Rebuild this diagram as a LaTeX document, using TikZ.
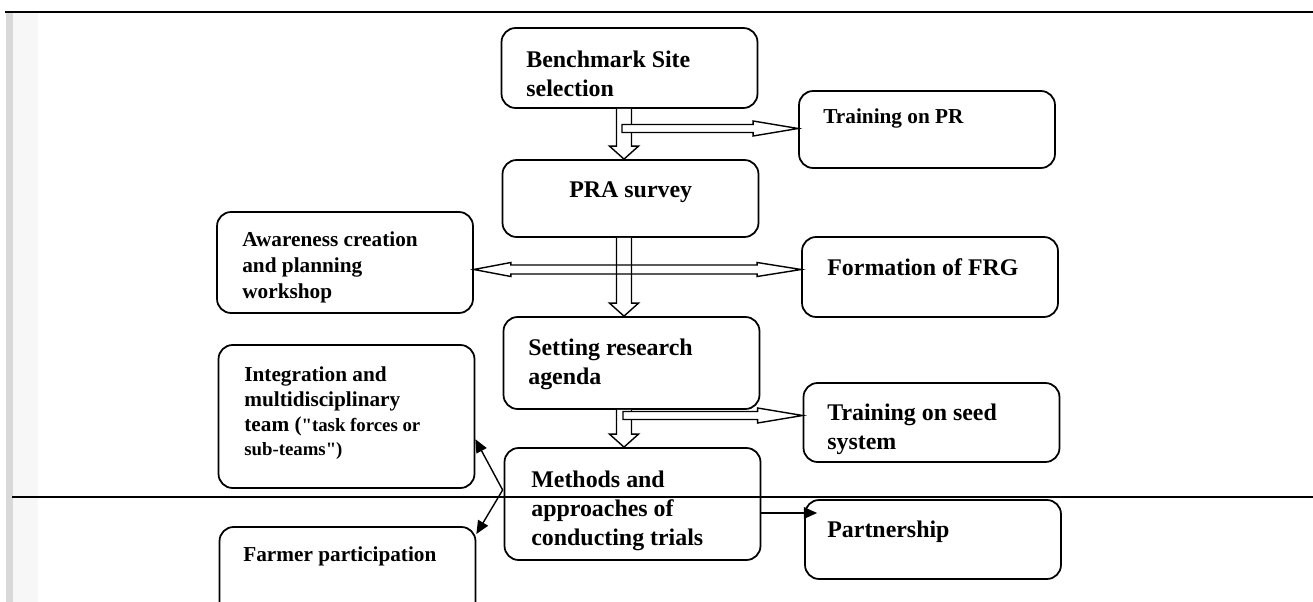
\documentclass[tikz,border=0pt]{standalone}
\usepackage{fontspec}
\setmainfont{Liberation Serif}
\usetikzlibrary{calc,arrows.meta}

% hollow block arrows: #1 start, #2 tip
\newcommand{\downblock}[2]{%
  \filldraw[fill=white,line width=0.8pt] ($(#1)+(-7.5,0)$) -- ($(#2)+(-7.5,-13)$) -- ($(#2)+(-14.5,-13)$) -- (#2)
    -- ($(#2)+(14.5,-13)$) -- ($(#2)+(7.5,-13)$) -- ($(#1)+(7.5,0)$);}
\newcommand{\rightblock}[2]{%
  \filldraw[fill=white,line width=0.8pt] ($(#1)+(0,-4)$) -- ($(#2)+(-45,-4)$) -- ($(#2)+(-45,-7.5)$) -- (#2)
    -- ($(#2)+(-45,7.5)$) -- ($(#2)+(-45,4)$) -- ($(#1)+(0,4)$) -- cycle;}

\begin{document}
\begin{tikzpicture}[x=0.02cm,y=-0.02cm,
  box/.style={draw,rounded corners=8pt,line width=1pt,minimum width=5.12cm,inner sep=0pt},
  txt/.style={anchor=north west,inner sep=0pt,align=left,font=\bfseries\fontsize{13.6}{16.4}\selectfont},
  stxt/.style={txt,font=\bfseries\fontsize{12.1}{14.8}\selectfont},
  link/.style={line width=0.8pt,-{Triangle[length=7.5pt,width=6.5pt]}}]
\useasboundingbox (0,0) rectangle (1313,602);
% scanned page edge
\fill[gray!30] (6,12) rectangle (13,602);
\fill[gray!6] (13,12) rectangle (38,602);
% boxes: name/x/y/height
\foreach \n/\x/\y/\h in {bench/629.5/68/1.6,trpr/927/129.5/1.54,pra/630.5/198.5/1.54,
  aware/345/262.5/2.02,frg/930/277/1.6,setting/631.5/363/1.84,integ/346.5/416.5/2.86,
  seed/931.5/422.5/1.58,methods/632.5/504/2.24,farmer/347.5/583.5/2.26,partner/933/539.5/1.58}{
  \node[box,minimum height=\h cm] (\n) at (\x,\y) {};}
% texts
\node[txt] (bench-t) at (526,51) {Benchmark Site\\selection};
\node[stxt] (trpr-t) at (823,108) {Training on PR};
\node[txt] (pra-t) at (569,181) {PRA survey};
\node[stxt,font=\bfseries\fontsize{12.1}{15}\selectfont] (aware-t) at (242,231) {Awareness creation\\and planning\\workshop};
\node[txt] (frg-t) at (827,258) {Formation of FRG};
\node[txt] (setting-t) at (528,339) {Setting research\\agenda};
\node[stxt,font=\bfseries\fontsize{12.1}{14.2}\selectfont] (integ-t) at (244,366) {Integration and\\multidisciplinary\\team ({\fontsize{10.7}{14.2}\selectfont\textquotedbl task forces or}\\{\fontsize{10.7}{14.2}\selectfont sub-teams\textquotedbl)}};
\node[txt] (seed-t) at (827,404) {Training on seed\\system};
\node[txt] (methods-t) at (531,471) {Methods and\\approaches of\\conducting trials};
\node[stxt] (farmer-t) at (243,546) {Farmer participation};
\node[txt] (partner-t) at (827,521) {Partnership};
% hollow arrows
\coordinate (col) at (624,0);
\downblock{bench.south -| col}{pra.north -| col}
\downblock{pra.south -| col}{setting.north -| col}
\downblock{setting.south -| col}{methods.north -| col}
\coordinate (s1) at (622,128.5);
\rightblock{s1}{s1 -| trpr.west}
\coordinate (s3) at (623,415.5);
\rightblock{s3}{s3 -| seed.west}
\coordinate (s2) at (624,269.5);
\draw[line width=0.8pt] (s2 -| aware.east) -- ++(37,-7) -- ++(0,2.5) -- ($(s2 -| frg.west)+(-44,-4.5)$) -- ++(0,-2.5)
  -- (s2 -| frg.west) -- ++(-44,7) -- ++(0,-2.5) -- ($(s2 -| aware.east)+(37,4.5)$) -- ++(0,2.5) -- cycle;
% thin arrows
\coordinate (fork) at ($(methods.west)+(-1,-14)$);
\draw[link] (fork) -- (integ.-10);
\draw[link] (fork) -- (farmer.21);
\coordinate (p0) at ($(methods.east)+(0,9)$);
\draw[link] (p0) -- ($(p0 -| partner.west)+(13,0)$);
% page rules
\draw[line width=1pt] (5,12) -- (1313,12);
\draw[line width=1pt] (12,497) -- (1313,497);
\end{tikzpicture}
\end{document}
